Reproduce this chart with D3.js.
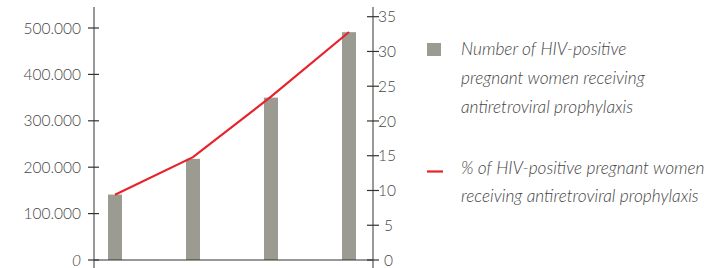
<!DOCTYPE html>
<html>
<head>
<meta charset="utf-8">
<script src="https://cdn.jsdelivr.net/npm/d3@7"></script>
<style>
  body { margin: 0; background: #fff; }
  text { font-family: Lato, "Open Sans", sans-serif; font-weight: 300; fill: #454545; }
</style>
</head>
<body>
<svg class="chart"></svg>
<script>
// values
var periods = ["p1", "p2", "p3", "p4"];
var women = [141000, 218000, 350000, 491000];
var percent = [9.4, 14.8, 23.5, 32.8];
var leftTicks = [0, 100000, 200000, 300000, 400000, 500000];
var rightTicks = [0, 5, 10, 15, 20, 25, 30, 35];
var legendBar = ["Number of HIV-positive", "pregnant women receiving", "antiretroviral prophylaxis"];
var legendLine = ["% of HIV-positive pregnant women", "receiving antiretroviral prophylaxis"];

var width = 706,
    height = 268;

var x0 = 94, x1 = 373, base = 260;

var chart = d3.select(".chart")
    .attr("width", width)
    .attr("height", height);

var x = d3.scalePoint()
    .domain(periods)
    .range([115, 349]);

var yLeft = d3.scaleLinear()
    .domain([0, 500000])
    .range([base, 28]);

var yRight = d3.scaleLinear()
    .domain([0, 35])
    .range([base, 16.7]);

var fmt = function(d) { return d3.format(",")(d).replace(/,/g, "."); };

// bars
chart.selectAll("rect.bar")
    .data(women)
  .enter().append("rect")
    .attr("class", "bar")
    .attr("x", function(d, i) { return x(periods[i]) - 7; })
    .attr("y", function(d) { return yLeft(d); })
    .attr("width", 14)
    .attr("height", function(d) { return base - yLeft(d); })
    .attr("fill", "#9c9b92");

// line
var line = d3.line()
    .x(function(d, i) { return x(periods[i]); })
    .y(function(d) { return yRight(d); });

chart.append("path")
    .datum(percent)
    .attr("d", line)
    .attr("fill", "none")
    .attr("stroke", "#e8222b")
    .attr("stroke-width", 2.2);

// axes
var axisColor = "#555";
chart.append("line")
    .attr("x1", x0).attr("x2", x1).attr("y1", base).attr("y2", base)
    .attr("stroke", "#333").attr("stroke-width", 1.2);

var leftAxis = chart.append("g");
leftAxis.append("line")
    .attr("x1", x0).attr("x2", x0).attr("y1", 7).attr("y2", 268)
    .attr("stroke", axisColor).attr("stroke-width", 1.2);
leftAxis.selectAll("line.tick")
    .data(leftTicks)
  .enter().append("line")
    .attr("x1", x0 - 6).attr("x2", x0 + 5)
    .attr("y1", function(d) { return yLeft(d); })
    .attr("y2", function(d) { return yLeft(d); })
    .attr("stroke", "#333").attr("stroke-width", 1.2);
leftAxis.selectAll("text")
    .data(leftTicks)
  .enter().append("text")
    .attr("x", 81)
    .attr("y", function(d) { return yLeft(d); })
    .attr("dy", "0.36em")
    .attr("text-anchor", "end")
    .style("font-size", "15.5px")
    .style("font-style", function(d) { return d === 0 ? "italic" : "normal"; })
    .text(fmt);

var rightAxis = chart.append("g");
rightAxis.append("line")
    .attr("x1", x1).attr("x2", x1).attr("y1", 7).attr("y2", 268)
    .attr("stroke", axisColor).attr("stroke-width", 1.2);
rightAxis.selectAll("line.tick")
    .data(rightTicks)
  .enter().append("line")
    .attr("x1", x1 - 6).attr("x2", x1 + 6)
    .attr("y1", function(d) { return yRight(d); })
    .attr("y2", function(d) { return yRight(d); })
    .attr("stroke", "#333").attr("stroke-width", 1.2);
rightAxis.selectAll("text")
    .data(rightTicks)
  .enter().append("text")
    .attr("x", function(d) { return d < 10 ? 384 : 378; })
    .attr("y", function(d) { return yRight(d); })
    .attr("dy", "0.36em")
    .style("font-size", "15.5px")
    .text(function(d) { return d; });

// legend
chart.append("rect")
    .attr("x", 427).attr("y", 43).attr("width", 14).attr("height", 13)
    .attr("fill", "#9c9b92");
chart.append("line")
    .attr("x1", 427).attr("x2", 443).attr("y1", 171.5).attr("y2", 171.5)
    .attr("stroke", "#e8222b").attr("stroke-width", 2.2);

chart.selectAll("text.lb")
    .data(legendBar)
  .enter().append("text")
    .attr("class", "lb")
    .attr("x", 461)
    .attr("y", function(d, i) { return 55 + i * 29; })
    .style("font-size", "17.3px")
    .style("font-style", "italic")
    .text(function(d) { return d; });

chart.selectAll("text.ll")
    .data(legendLine)
  .enter().append("text")
    .attr("class", "ll")
    .attr("x", 461)
    .attr("y", function(d, i) { return 174 + i * 28; })
    .style("font-size", "17.3px")
    .style("font-style", "italic")
    .text(function(d) { return d; });
</script>
</body>
</html>
